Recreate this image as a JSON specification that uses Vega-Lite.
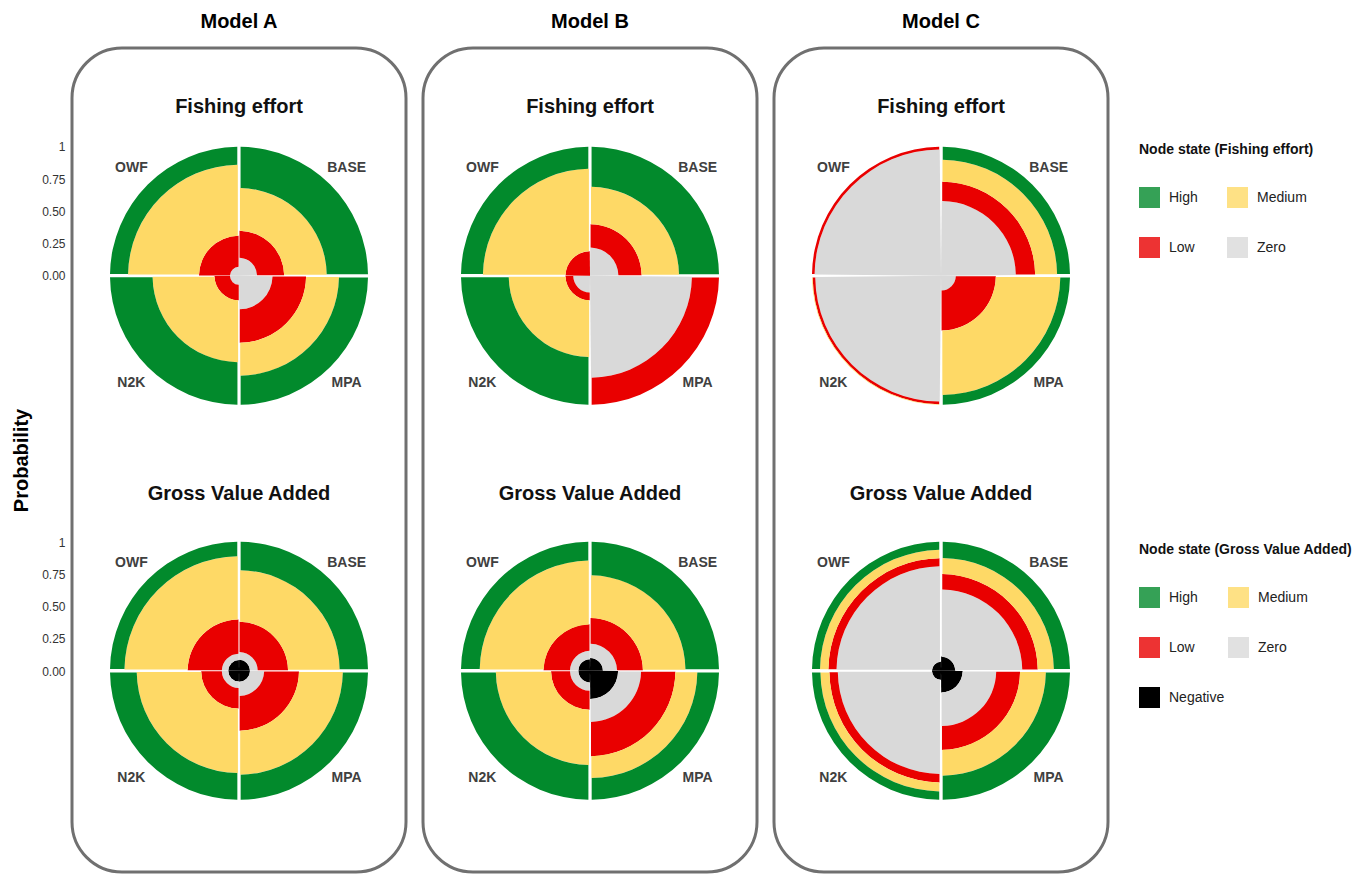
{
  "$schema": "https://vega.github.io/schema/vega-lite/v6.json",
  "padding": {"left": 10, "top": 10, "right": 5, "bottom": 2},
  "background": "white",
  "data": {"values": [
    {"model":"Model A","variable":"Fishing effort","scenario":"BASE","state":"Zero","p":0.14},
    {"model":"Model A","variable":"Fishing effort","scenario":"BASE","state":"Low","p":0.21},
    {"model":"Model A","variable":"Fishing effort","scenario":"BASE","state":"Medium","p":0.33},
    {"model":"Model A","variable":"Fishing effort","scenario":"BASE","state":"High","p":0.32},
    {"model":"Model A","variable":"Fishing effort","scenario":"MPA","state":"Zero","p":0.26},
    {"model":"Model A","variable":"Fishing effort","scenario":"MPA","state":"Low","p":0.26},
    {"model":"Model A","variable":"Fishing effort","scenario":"MPA","state":"Medium","p":0.255},
    {"model":"Model A","variable":"Fishing effort","scenario":"MPA","state":"High","p":0.225},
    {"model":"Model A","variable":"Fishing effort","scenario":"N2K","state":"Zero","p":0.07},
    {"model":"Model A","variable":"Fishing effort","scenario":"N2K","state":"Low","p":0.12},
    {"model":"Model A","variable":"Fishing effort","scenario":"N2K","state":"Medium","p":0.48},
    {"model":"Model A","variable":"Fishing effort","scenario":"N2K","state":"High","p":0.33},
    {"model":"Model A","variable":"Fishing effort","scenario":"OWF","state":"Zero","p":0.07},
    {"model":"Model A","variable":"Fishing effort","scenario":"OWF","state":"Low","p":0.24},
    {"model":"Model A","variable":"Fishing effort","scenario":"OWF","state":"Medium","p":0.55},
    {"model":"Model A","variable":"Fishing effort","scenario":"OWF","state":"High","p":0.14},
    {"model":"Model B","variable":"Fishing effort","scenario":"BASE","state":"Zero","p":0.22},
    {"model":"Model B","variable":"Fishing effort","scenario":"BASE","state":"Low","p":0.18},
    {"model":"Model B","variable":"Fishing effort","scenario":"BASE","state":"Medium","p":0.29},
    {"model":"Model B","variable":"Fishing effort","scenario":"BASE","state":"High","p":0.31},
    {"model":"Model B","variable":"Fishing effort","scenario":"MPA","state":"Zero","p":0.79},
    {"model":"Model B","variable":"Fishing effort","scenario":"MPA","state":"Low","p":0.21},
    {"model":"Model B","variable":"Fishing effort","scenario":"MPA","state":"Medium","p":0},
    {"model":"Model B","variable":"Fishing effort","scenario":"MPA","state":"High","p":0},
    {"model":"Model B","variable":"Fishing effort","scenario":"N2K","state":"Zero","p":0.13},
    {"model":"Model B","variable":"Fishing effort","scenario":"N2K","state":"Low","p":0.06},
    {"model":"Model B","variable":"Fishing effort","scenario":"N2K","state":"Medium","p":0.44},
    {"model":"Model B","variable":"Fishing effort","scenario":"N2K","state":"High","p":0.37},
    {"model":"Model B","variable":"Fishing effort","scenario":"OWF","state":"Zero","p":0.0},
    {"model":"Model B","variable":"Fishing effort","scenario":"OWF","state":"Low","p":0.19},
    {"model":"Model B","variable":"Fishing effort","scenario":"OWF","state":"Medium","p":0.64},
    {"model":"Model B","variable":"Fishing effort","scenario":"OWF","state":"High","p":0.17},
    {"model":"Model C","variable":"Fishing effort","scenario":"BASE","state":"Zero","p":0.58},
    {"model":"Model C","variable":"Fishing effort","scenario":"BASE","state":"Low","p":0.15},
    {"model":"Model C","variable":"Fishing effort","scenario":"BASE","state":"Medium","p":0.17},
    {"model":"Model C","variable":"Fishing effort","scenario":"BASE","state":"High","p":0.10},
    {"model":"Model C","variable":"Fishing effort","scenario":"MPA","state":"Zero","p":0.115},
    {"model":"Model C","variable":"Fishing effort","scenario":"MPA","state":"Low","p":0.31},
    {"model":"Model C","variable":"Fishing effort","scenario":"MPA","state":"Medium","p":0.50},
    {"model":"Model C","variable":"Fishing effort","scenario":"MPA","state":"High","p":0.075},
    {"model":"Model C","variable":"Fishing effort","scenario":"N2K","state":"Zero","p":0.975},
    {"model":"Model C","variable":"Fishing effort","scenario":"N2K","state":"Low","p":0.02},
    {"model":"Model C","variable":"Fishing effort","scenario":"N2K","state":"Medium","p":0.005},
    {"model":"Model C","variable":"Fishing effort","scenario":"N2K","state":"High","p":0},
    {"model":"Model C","variable":"Fishing effort","scenario":"OWF","state":"Zero","p":0.98},
    {"model":"Model C","variable":"Fishing effort","scenario":"OWF","state":"Low","p":0.02},
    {"model":"Model C","variable":"Fishing effort","scenario":"OWF","state":"Medium","p":0},
    {"model":"Model C","variable":"Fishing effort","scenario":"OWF","state":"High","p":0},
    {"model":"Model A","variable":"Gross Value Added","scenario":"BASE","state":"Negative","p":0.085},
    {"model":"Model A","variable":"Gross Value Added","scenario":"BASE","state":"Zero","p":0.06},
    {"model":"Model A","variable":"Gross Value Added","scenario":"BASE","state":"Low","p":0.235},
    {"model":"Model A","variable":"Gross Value Added","scenario":"BASE","state":"Medium","p":0.40},
    {"model":"Model A","variable":"Gross Value Added","scenario":"BASE","state":"High","p":0.22},
    {"model":"Model A","variable":"Gross Value Added","scenario":"MPA","state":"Negative","p":0.085},
    {"model":"Model A","variable":"Gross Value Added","scenario":"MPA","state":"Zero","p":0.11},
    {"model":"Model A","variable":"Gross Value Added","scenario":"MPA","state":"Low","p":0.27},
    {"model":"Model A","variable":"Gross Value Added","scenario":"MPA","state":"Medium","p":0.34},
    {"model":"Model A","variable":"Gross Value Added","scenario":"MPA","state":"High","p":0.195},
    {"model":"Model A","variable":"Gross Value Added","scenario":"N2K","state":"Negative","p":0.083},
    {"model":"Model A","variable":"Gross Value Added","scenario":"N2K","state":"Zero","p":0.05},
    {"model":"Model A","variable":"Gross Value Added","scenario":"N2K","state":"Low","p":0.16},
    {"model":"Model A","variable":"Gross Value Added","scenario":"N2K","state":"Medium","p":0.50},
    {"model":"Model A","variable":"Gross Value Added","scenario":"N2K","state":"High","p":0.207},
    {"model":"Model A","variable":"Gross Value Added","scenario":"OWF","state":"Negative","p":0.083},
    {"model":"Model A","variable":"Gross Value Added","scenario":"OWF","state":"Zero","p":0.05},
    {"model":"Model A","variable":"Gross Value Added","scenario":"OWF","state":"Low","p":0.265},
    {"model":"Model A","variable":"Gross Value Added","scenario":"OWF","state":"Medium","p":0.49},
    {"model":"Model A","variable":"Gross Value Added","scenario":"OWF","state":"High","p":0.112},
    {"model":"Model B","variable":"Gross Value Added","scenario":"BASE","state":"Negative","p":0.10},
    {"model":"Model B","variable":"Gross Value Added","scenario":"BASE","state":"Zero","p":0.11},
    {"model":"Model B","variable":"Gross Value Added","scenario":"BASE","state":"Low","p":0.20},
    {"model":"Model B","variable":"Gross Value Added","scenario":"BASE","state":"Medium","p":0.33},
    {"model":"Model B","variable":"Gross Value Added","scenario":"BASE","state":"High","p":0.26},
    {"model":"Model B","variable":"Gross Value Added","scenario":"MPA","state":"Negative","p":0.218},
    {"model":"Model B","variable":"Gross Value Added","scenario":"MPA","state":"Zero","p":0.178},
    {"model":"Model B","variable":"Gross Value Added","scenario":"MPA","state":"Low","p":0.266},
    {"model":"Model B","variable":"Gross Value Added","scenario":"MPA","state":"Medium","p":0.17},
    {"model":"Model B","variable":"Gross Value Added","scenario":"MPA","state":"High","p":0.168},
    {"model":"Model B","variable":"Gross Value Added","scenario":"N2K","state":"Negative","p":0.09},
    {"model":"Model B","variable":"Gross Value Added","scenario":"N2K","state":"Zero","p":0.065},
    {"model":"Model B","variable":"Gross Value Added","scenario":"N2K","state":"Low","p":0.147},
    {"model":"Model B","variable":"Gross Value Added","scenario":"N2K","state":"Medium","p":0.428},
    {"model":"Model B","variable":"Gross Value Added","scenario":"N2K","state":"High","p":0.27},
    {"model":"Model B","variable":"Gross Value Added","scenario":"OWF","state":"Negative","p":0.09},
    {"model":"Model B","variable":"Gross Value Added","scenario":"OWF","state":"Zero","p":0.065},
    {"model":"Model B","variable":"Gross Value Added","scenario":"OWF","state":"Low","p":0.205},
    {"model":"Model B","variable":"Gross Value Added","scenario":"OWF","state":"Medium","p":0.495},
    {"model":"Model B","variable":"Gross Value Added","scenario":"OWF","state":"High","p":0.145},
    {"model":"Model C","variable":"Gross Value Added","scenario":"BASE","state":"Negative","p":0.11},
    {"model":"Model C","variable":"Gross Value Added","scenario":"BASE","state":"Zero","p":0.52},
    {"model":"Model C","variable":"Gross Value Added","scenario":"BASE","state":"Low","p":0.12},
    {"model":"Model C","variable":"Gross Value Added","scenario":"BASE","state":"Medium","p":0.125},
    {"model":"Model C","variable":"Gross Value Added","scenario":"BASE","state":"High","p":0.125},
    {"model":"Model C","variable":"Gross Value Added","scenario":"MPA","state":"Negative","p":0.168},
    {"model":"Model C","variable":"Gross Value Added","scenario":"MPA","state":"Zero","p":0.26},
    {"model":"Model C","variable":"Gross Value Added","scenario":"MPA","state":"Low","p":0.185},
    {"model":"Model C","variable":"Gross Value Added","scenario":"MPA","state":"Medium","p":0.20},
    {"model":"Model C","variable":"Gross Value Added","scenario":"MPA","state":"High","p":0.187},
    {"model":"Model C","variable":"Gross Value Added","scenario":"N2K","state":"Negative","p":0.07},
    {"model":"Model C","variable":"Gross Value Added","scenario":"N2K","state":"Zero","p":0.73},
    {"model":"Model C","variable":"Gross Value Added","scenario":"N2K","state":"Low","p":0.065},
    {"model":"Model C","variable":"Gross Value Added","scenario":"N2K","state":"Medium","p":0.07},
    {"model":"Model C","variable":"Gross Value Added","scenario":"N2K","state":"High","p":0.065},
    {"model":"Model C","variable":"Gross Value Added","scenario":"OWF","state":"Negative","p":0.07},
    {"model":"Model C","variable":"Gross Value Added","scenario":"OWF","state":"Zero","p":0.74},
    {"model":"Model C","variable":"Gross Value Added","scenario":"OWF","state":"Low","p":0.063},
    {"model":"Model C","variable":"Gross Value Added","scenario":"OWF","state":"Medium","p":0.065},
    {"model":"Model C","variable":"Gross Value Added","scenario":"OWF","state":"High","p":0.062}
  ]},
  "transform": [
    {"calculate": "indexof(['BASE','MPA','N2K','OWF'], datum.scenario)", "as": "q0"},
    {"calculate": "datum.q0 + 1", "as": "q1"},
    {"calculate": "datum.q0 + 0.5", "as": "qm"},
    {"calculate": "indexof(['Negative','Zero','Low','Medium','High'], datum.state)", "as": "so"},
    {"stack": "p", "groupby": ["model", "variable", "scenario"], "sort": [{"field": "so", "order": "ascending"}], "as": ["r0", "r1"]}
  ],
  "spacing": 13,
  "hconcat": [
    {
      "title": "Model A",
      "width": 334, "height": 824,
      "transform": [{"filter": "datum.model == 'Model A'"}],
      "layer": [
        {"layer": [
          {"transform": [{"filter": "datum.variable == 'Fishing effort'"}],
           "mark": {"type": "arc", "padAngle": 0.02},
           "encoding": {
             "y": {"field": "variable", "type": "nominal", "scale": {"type": "point", "domain": ["Fishing effort", "Gross Value Added"], "padding": 0.543, "align": 0.531}, "axis": null},
             "theta": {"field": "q0", "type": "quantitative", "scale": {"domain": [0, 4], "range": [0, 6.283185]}},
             "theta2": {"field": "q1"},
             "radius": {"field": "r1", "type": "quantitative", "scale": {"type": "linear", "domain": [0, 1], "range": [0, 129], "zero": true, "nice": false}},
             "radius2": {"field": "r0"},
             "color": {"field": "state", "type": "nominal", "scale": {"domain": ["High", "Medium", "Low", "Zero"], "range": ["#028a2c", "#fed966", "#e90000", "#d9d9d9"]},
               "legend": {"title": "Node state (Fishing effort)", "orient": "none", "legendX": 1067, "legendY": 95, "direction": "horizontal", "columns": 2, "columnPadding": 29, "rowPadding": 29}}
           }},
          {"transform": [{"filter": "datum.variable == 'Gross Value Added'"}],
           "mark": {"type": "arc", "padAngle": 0.02},
           "encoding": {
             "y": {"field": "variable", "type": "nominal", "scale": {"type": "point", "domain": ["Fishing effort", "Gross Value Added"], "padding": 0.543, "align": 0.531}, "axis": null},
             "theta": {"field": "q0", "type": "quantitative", "scale": {"domain": [0, 4], "range": [0, 6.283185]}},
             "theta2": {"field": "q1"},
             "radius": {"field": "r1", "type": "quantitative", "scale": {"type": "linear", "domain": [0, 1], "range": [0, 129], "zero": true, "nice": false}},
             "radius2": {"field": "r0"},
             "fill": {"field": "state", "type": "nominal", "scale": {"domain": ["High", "Medium", "Low", "Zero", "Negative"], "range": ["#028a2c", "#fed966", "#e90000", "#d9d9d9", "#000000"]},
               "legend": {"title": "Node state (Gross Value Added)", "orient": "none", "legendX": 1067, "legendY": 495, "direction": "horizontal", "columns": 2, "columnPadding": 3, "rowPadding": 29,
                 "encode": {"symbols": {"update": {"opacity": {"signal": "datum.value === 'Negative' ? 1 : 0.8"}}}}}}
           }},
          {"transform": [{"filter": "datum.state == 'High'"}],
           "mark": {"type": "text", "fontSize": 14, "fontWeight": "bold", "color": "#404040"},
           "encoding": {
             "y": {"field": "variable", "type": "nominal", "scale": {"type": "point", "domain": ["Fishing effort", "Gross Value Added"], "padding": 0.543, "align": 0.531}, "axis": null},
             "theta": {"field": "qm", "type": "quantitative"},
             "radius": {"datum": 1.18},
             "text": {"field": "scenario"}
           }},
          {"transform": [{"filter": "datum.state == 'High' && datum.scenario == 'BASE' && datum.variable == 'Fishing effort'"}],
           "mark": {"type": "text", "fontSize": 20, "fontWeight": "bold", "color": "#111111"},
           "encoding": {
             "y": {"field": "variable", "type": "nominal", "scale": {"type": "point", "domain": ["Fishing effort", "Gross Value Added"], "padding": 0.543, "align": 0.531}, "axis": null},
             "theta": {"datum": 0},
             "radius": {"datum": 1.31},
             "text": {"field": "variable"}
           }},
          {"transform": [{"filter": "datum.state == 'High' && datum.scenario == 'BASE' && datum.variable == 'Gross Value Added'"}],
           "mark": {"type": "text", "fontSize": 20, "fontWeight": "bold", "color": "#111111"},
           "encoding": {
             "y": {"field": "variable", "type": "nominal", "scale": {"type": "point", "domain": ["Fishing effort", "Gross Value Added"], "padding": 0.543, "align": 0.531}, "axis": null},
             "theta": {"datum": 0},
             "radius": {"datum": 1.37},
             "text": {"field": "variable"}
           }}
        ]},
        {"transform": [{"filter": "datum.state == 'High' && datum.scenario == 'BASE'"}],
         "mark": {"type": "point", "opacity": 0},
         "encoding": {
           "y": {"datum": 0, "type": "quantitative",
             "scale": {"domain": [-4.6217, 1.766], "nice": false, "zero": false},
             "axis": {"orient": "left", "title": "Probability", "values": [1, 0.75, 0.5, 0.25, 0, -2.0636, -2.3136, -2.5636, -2.8136, -3.0636],
               "labelExpr": "datum.value > -1 ? (datum.value > 0.99 ? '1' : format(datum.value, '.2f')) : (datum.value > -2.07 ? '1' : format(datum.value + 3.0636, '.2f'))",
               "domain": false, "ticks": false, "grid": false, "labelFontSize": 12, "labelColor": "#333333", "labelPadding": 7,
               "titleFontSize": 20, "titleFontWeight": "bold", "titleColor": "#000000", "titlePadding": 10}}
         }}
      ],
      "resolve": {"scale": {"y": "independent"}}
    },
    {
      "title": "Model B",
      "width": 334, "height": 824,
      "transform": [{"filter": "datum.model == 'Model B'"}],
      "layer": [
          {"transform": [{"filter": "datum.variable == 'Fishing effort'"}],
           "mark": {"type": "arc", "padAngle": 0.02},
           "encoding": {
             "y": {"field": "variable", "type": "nominal", "scale": {"type": "point", "domain": ["Fishing effort", "Gross Value Added"], "padding": 0.543, "align": 0.531}, "axis": null},
             "theta": {"field": "q0", "type": "quantitative", "scale": {"domain": [0, 4], "range": [0, 6.283185]}},
             "theta2": {"field": "q1"},
             "radius": {"field": "r1", "type": "quantitative", "scale": {"type": "linear", "domain": [0, 1], "range": [0, 129], "zero": true, "nice": false}},
             "radius2": {"field": "r0"},
             "color": {"field": "state", "type": "nominal", "scale": {"domain": ["High", "Medium", "Low", "Zero"], "range": ["#028a2c", "#fed966", "#e90000", "#d9d9d9"]},
               "legend": {"title": "Node state (Fishing effort)", "orient": "none", "legendX": 1067, "legendY": 95, "direction": "horizontal", "columns": 2, "columnPadding": 29, "rowPadding": 29}}
           }},
          {"transform": [{"filter": "datum.variable == 'Gross Value Added'"}],
           "mark": {"type": "arc", "padAngle": 0.02},
           "encoding": {
             "y": {"field": "variable", "type": "nominal", "scale": {"type": "point", "domain": ["Fishing effort", "Gross Value Added"], "padding": 0.543, "align": 0.531}, "axis": null},
             "theta": {"field": "q0", "type": "quantitative", "scale": {"domain": [0, 4], "range": [0, 6.283185]}},
             "theta2": {"field": "q1"},
             "radius": {"field": "r1", "type": "quantitative", "scale": {"type": "linear", "domain": [0, 1], "range": [0, 129], "zero": true, "nice": false}},
             "radius2": {"field": "r0"},
             "fill": {"field": "state", "type": "nominal", "scale": {"domain": ["High", "Medium", "Low", "Zero", "Negative"], "range": ["#028a2c", "#fed966", "#e90000", "#d9d9d9", "#000000"]},
               "legend": {"title": "Node state (Gross Value Added)", "orient": "none", "legendX": 1067, "legendY": 495, "direction": "horizontal", "columns": 2, "columnPadding": 3, "rowPadding": 29,
                 "encode": {"symbols": {"update": {"opacity": {"signal": "datum.value === 'Negative' ? 1 : 0.8"}}}}}}
           }},
          {"transform": [{"filter": "datum.state == 'High'"}],
           "mark": {"type": "text", "fontSize": 14, "fontWeight": "bold", "color": "#404040"},
           "encoding": {
             "y": {"field": "variable", "type": "nominal", "scale": {"type": "point", "domain": ["Fishing effort", "Gross Value Added"], "padding": 0.543, "align": 0.531}, "axis": null},
             "theta": {"field": "qm", "type": "quantitative"},
             "radius": {"datum": 1.18},
             "text": {"field": "scenario"}
           }},
          {"transform": [{"filter": "datum.state == 'High' && datum.scenario == 'BASE' && datum.variable == 'Fishing effort'"}],
           "mark": {"type": "text", "fontSize": 20, "fontWeight": "bold", "color": "#111111"},
           "encoding": {
             "y": {"field": "variable", "type": "nominal", "scale": {"type": "point", "domain": ["Fishing effort", "Gross Value Added"], "padding": 0.543, "align": 0.531}, "axis": null},
             "theta": {"datum": 0},
             "radius": {"datum": 1.31},
             "text": {"field": "variable"}
           }},
          {"transform": [{"filter": "datum.state == 'High' && datum.scenario == 'BASE' && datum.variable == 'Gross Value Added'"}],
           "mark": {"type": "text", "fontSize": 20, "fontWeight": "bold", "color": "#111111"},
           "encoding": {
             "y": {"field": "variable", "type": "nominal", "scale": {"type": "point", "domain": ["Fishing effort", "Gross Value Added"], "padding": 0.543, "align": 0.531}, "axis": null},
             "theta": {"datum": 0},
             "radius": {"datum": 1.37},
             "text": {"field": "variable"}
           }}
      ]
    },
    {
      "title": "Model C",
      "width": 334, "height": 824,
      "transform": [{"filter": "datum.model == 'Model C'"}],
      "layer": [
          {"transform": [{"filter": "datum.variable == 'Fishing effort'"}],
           "mark": {"type": "arc", "padAngle": 0.02},
           "encoding": {
             "y": {"field": "variable", "type": "nominal", "scale": {"type": "point", "domain": ["Fishing effort", "Gross Value Added"], "padding": 0.543, "align": 0.531}, "axis": null},
             "theta": {"field": "q0", "type": "quantitative", "scale": {"domain": [0, 4], "range": [0, 6.283185]}},
             "theta2": {"field": "q1"},
             "radius": {"field": "r1", "type": "quantitative", "scale": {"type": "linear", "domain": [0, 1], "range": [0, 129], "zero": true, "nice": false}},
             "radius2": {"field": "r0"},
             "color": {"field": "state", "type": "nominal", "scale": {"domain": ["High", "Medium", "Low", "Zero"], "range": ["#028a2c", "#fed966", "#e90000", "#d9d9d9"]},
               "legend": {"title": "Node state (Fishing effort)", "orient": "none", "legendX": 1067, "legendY": 95, "direction": "horizontal", "columns": 2, "columnPadding": 29, "rowPadding": 29}}
           }},
          {"transform": [{"filter": "datum.variable == 'Gross Value Added'"}],
           "mark": {"type": "arc", "padAngle": 0.02},
           "encoding": {
             "y": {"field": "variable", "type": "nominal", "scale": {"type": "point", "domain": ["Fishing effort", "Gross Value Added"], "padding": 0.543, "align": 0.531}, "axis": null},
             "theta": {"field": "q0", "type": "quantitative", "scale": {"domain": [0, 4], "range": [0, 6.283185]}},
             "theta2": {"field": "q1"},
             "radius": {"field": "r1", "type": "quantitative", "scale": {"type": "linear", "domain": [0, 1], "range": [0, 129], "zero": true, "nice": false}},
             "radius2": {"field": "r0"},
             "fill": {"field": "state", "type": "nominal", "scale": {"domain": ["High", "Medium", "Low", "Zero", "Negative"], "range": ["#028a2c", "#fed966", "#e90000", "#d9d9d9", "#000000"]},
               "legend": {"title": "Node state (Gross Value Added)", "orient": "none", "legendX": 1067, "legendY": 495, "direction": "horizontal", "columns": 2, "columnPadding": 3, "rowPadding": 29,
                 "encode": {"symbols": {"update": {"opacity": {"signal": "datum.value === 'Negative' ? 1 : 0.8"}}}}}}
           }},
          {"transform": [{"filter": "datum.state == 'High'"}],
           "mark": {"type": "text", "fontSize": 14, "fontWeight": "bold", "color": "#404040"},
           "encoding": {
             "y": {"field": "variable", "type": "nominal", "scale": {"type": "point", "domain": ["Fishing effort", "Gross Value Added"], "padding": 0.543, "align": 0.531}, "axis": null},
             "theta": {"field": "qm", "type": "quantitative"},
             "radius": {"datum": 1.18},
             "text": {"field": "scenario"}
           }},
          {"transform": [{"filter": "datum.state == 'High' && datum.scenario == 'BASE' && datum.variable == 'Fishing effort'"}],
           "mark": {"type": "text", "fontSize": 20, "fontWeight": "bold", "color": "#111111"},
           "encoding": {
             "y": {"field": "variable", "type": "nominal", "scale": {"type": "point", "domain": ["Fishing effort", "Gross Value Added"], "padding": 0.543, "align": 0.531}, "axis": null},
             "theta": {"datum": 0},
             "radius": {"datum": 1.31},
             "text": {"field": "variable"}
           }},
          {"transform": [{"filter": "datum.state == 'High' && datum.scenario == 'BASE' && datum.variable == 'Gross Value Added'"}],
           "mark": {"type": "text", "fontSize": 20, "fontWeight": "bold", "color": "#111111"},
           "encoding": {
             "y": {"field": "variable", "type": "nominal", "scale": {"type": "point", "domain": ["Fishing effort", "Gross Value Added"], "padding": 0.543, "align": 0.531}, "axis": null},
             "theta": {"datum": 0},
             "radius": {"datum": 1.37},
             "text": {"field": "variable"}
           }}
      ]
    }
  ],
  "config": {
    "font": "Liberation Sans",
    "view": {"stroke": "#707070", "strokeWidth": 3, "cornerRadius": 50},
    "title": {"fontSize": 20, "fontWeight": "bold", "color": "#000000", "offset": 16, "anchor": "middle", "frame": "group"},
    "legend": {
      "titleFontSize": 14, "titleFontWeight": "bold", "titleColor": "#111111", "titlePadding": 30, "titleLimit": 400,
      "labelFontSize": 14, "labelColor": "#222222", "labelOffset": 9,
      "symbolType": "square", "symbolSize": 441, "symbolOpacity": 0.8, "symbolStrokeWidth": 0
    }
  }
}
